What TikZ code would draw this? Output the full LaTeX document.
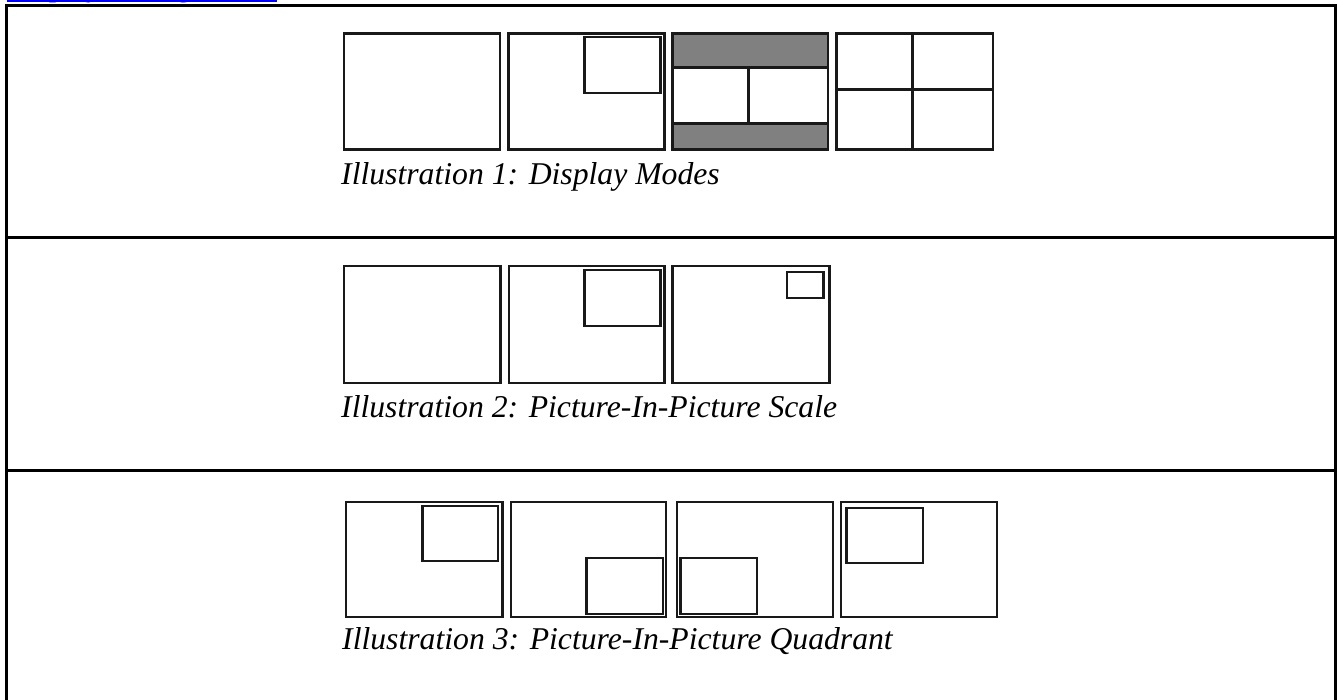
\documentclass[tikz,border=0pt]{standalone}
\usepackage{fontspec}
\setmainfont{Liberation Serif}
\definecolor{linkblue}{RGB}{0,0,255}
\begin{document}
\begin{tikzpicture}[x=1pt,y=-1pt,
  frame/.style={line width=3pt,black,line cap=rect},
  screen/.style={draw=black!90,line width=2.4pt},
  band/.style={screen,fill=black!50},
  captext/.style={anchor=base west,inner sep=0pt,font=\fontsize{31.7}{36}\selectfont\itshape},
  linktext/.style={anchor=base west,inner sep=0pt,text=linkblue,font=\fontsize{30}{34}\selectfont}]
\useasboundingbox (0,0) rectangle (1338,700);
\begin{scope}
\clip (0,0) rectangle (1338,700);
% clipped link text at the top
\node[linktext] (lnk) at (7,-3.5) {Display Configuration};
\draw[linkblue,line width=1.5pt] (lnk.base west) ++(0,4.5) -- ++(270,0);
% outer frame
\draw[frame] (6.5,760) -- (6.5,5.5) -- (1335.5,5.5) -- (1335.5,760);
\draw[frame] (6.5,238) -- (1335.5,238);
\draw[frame] (6.5,470) -- (1335.5,470);
% section 1: display modes
\draw[screen] (344,33.5) rectangle (500,149.5);
\draw[screen] (508.5,33.5) rectangle (664.5,149.5);
\draw[screen] (584.3,37) rectangle (660.5,92.8);
\filldraw[band] (672.3,33.5) rectangle (828,67.5);
\filldraw[band] (672.3,123.7) rectangle (828,149.5);
\draw[screen] (672.3,33.5) rectangle (828,149.5);
\draw[screen] (748.3,67.5) -- (748.3,123.7);
\draw[screen] (836.3,33.5) rectangle (992.8,149.5);
\draw[screen] (836.3,89.5) -- (992.8,89.5);
\draw[screen] (912.3,33.5) -- (912.3,149.5);
\node[captext] (c1) at (341,185) {Illustration 1: Display Modes};
% section 2: PiP scale
\draw[screen] (344,266) rectangle (500.3,382.8);
\draw[screen] (508.7,266) rectangle (664.5,382.8);
\draw[screen] (584.5,270.3) rectangle (660.5,326.2);
\draw[screen] (672.5,266) rectangle (829.5,382.8);
\draw[screen] (786.7,272.3) rectangle (823.3,298.3);
\node[captext] (c2) at (341,417) {Illustration 2: Picture-In-Picture Scale};
% section 3: PiP quadrant
\draw[screen] (346,502) rectangle (502.3,616.8);
\draw[screen] (422.3,505.7) rectangle (497.7,561);
\draw[screen] (510.7,502) rectangle (666.2,616.8);
\draw[screen] (586.5,557.7) rectangle (662.7,613.8);
\draw[screen] (676.7,502) rectangle (833,616.8);
\draw[screen] (680.3,557.7) rectangle (756.7,613.8);
\draw[screen] (840.7,502) rectangle (996.8,616.8);
\draw[screen] (846.3,507.7) rectangle (923,562.7);
\node[captext] (c3) at (342,649) {Illustration 3: Picture-In-Picture Quadrant};
\end{scope}
\end{tikzpicture}
\end{document}
